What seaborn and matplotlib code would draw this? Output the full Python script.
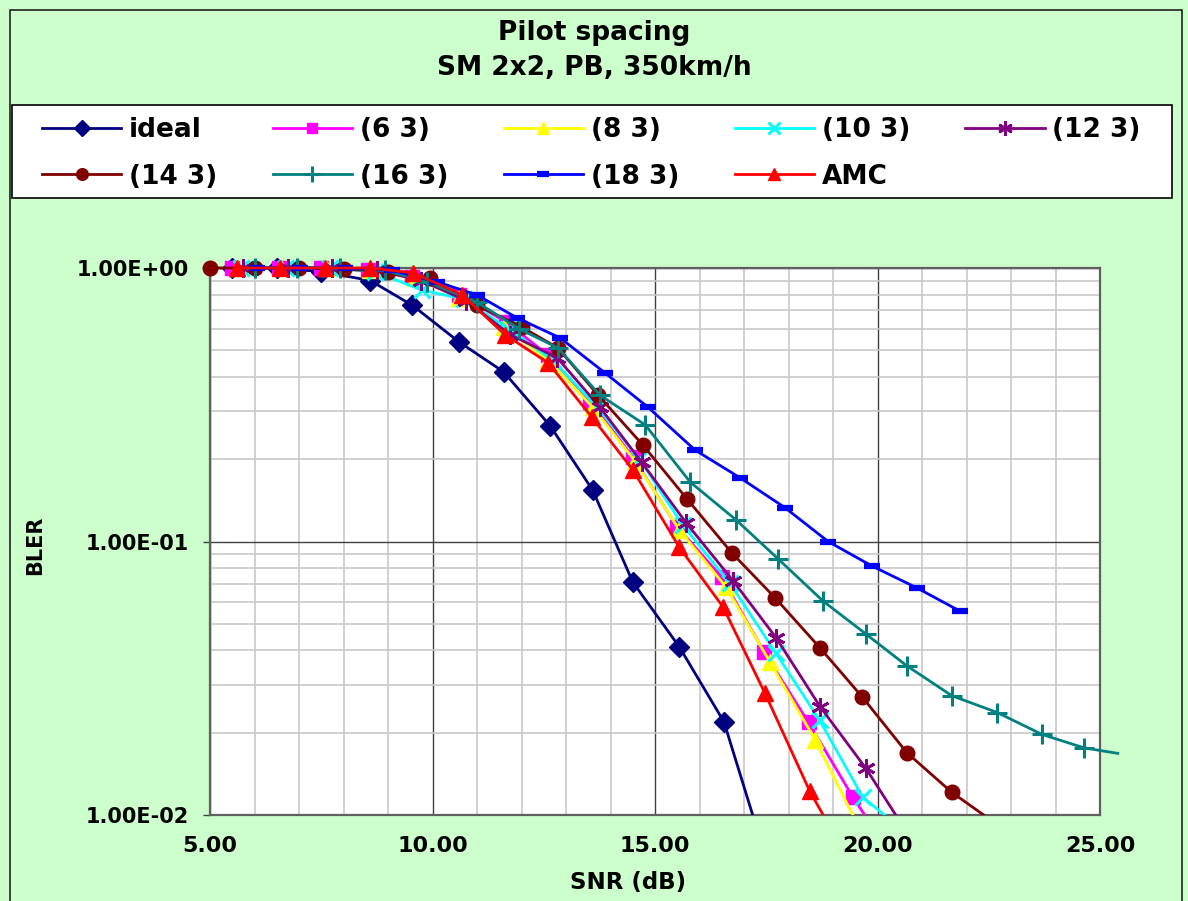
import matplotlib
matplotlib.use("Agg")
import matplotlib.pyplot as plt
import matplotlib.ticker as mticker
from matplotlib.patches import Rectangle
import seaborn as sns
import numpy as np

# ---------------- data ----------------
series_names = ["ideal", "(6 3)", "(8 3)", "(10 3)", "(12 3)",
                "(14 3)", "(16 3)", "(18 3)", "AMC"]

x_ideal = [5.5, 6.5, 7.5, 8.6, 9.55, 10.6, 11.6, 12.65, 13.6, 14.5, 15.55, 16.55, 17.55]
y_ideal = [1.0, 1.0, 0.97, 0.90, 0.73, 0.536, 0.417, 0.264, 0.154, 0.0711, 0.0411, 0.0219, 0.0065]

x_63 = [5.5, 6.55, 7.5, 8.55, 9.55, 10.6, 11.65, 12.6, 13.55, 14.5, 15.5, 16.5, 17.45, 18.45, 19.45, 20.45]
y_63 = [1.0, 1.0, 1.0, 0.98, 0.93, 0.80, 0.635, 0.48, 0.324, 0.204, 0.113, 0.074, 0.0394, 0.0218, 0.0116, 0.0066]

x_83 = [5.6, 6.6, 7.6, 8.6, 9.6, 10.6, 11.6, 12.6, 13.6, 14.55, 15.55, 16.6, 17.58, 18.6, 19.6]
y_83 = [1.0, 1.0, 1.0, 0.98, 0.92, 0.78, 0.61, 0.46, 0.31, 0.197, 0.110, 0.068, 0.0363, 0.0188, 0.0089]

x_103 = [5.7, 6.7, 7.7, 8.7, 9.76, 10.7, 11.7, 12.7, 13.7, 14.65, 15.62, 16.68, 17.72, 18.7, 19.67, 20.7]
y_103 = [1.0, 1.0, 1.0, 0.97, 0.83, 0.77, 0.60, 0.46, 0.31, 0.20, 0.115, 0.0705, 0.039, 0.0222, 0.0116, 0.0085]

x_123 = [5.75, 6.75, 7.75, 8.75, 9.75, 10.75, 11.75, 12.8, 13.76, 14.7, 15.7, 16.75, 17.72, 18.71, 19.74, 20.75]
y_123 = [1.0, 1.0, 1.0, 0.98, 0.90, 0.76, 0.57, 0.47, 0.31, 0.195, 0.117, 0.072, 0.0445, 0.0249, 0.0148, 0.0082]

x_143 = [5.0, 6.0, 7.0, 8.0, 9.0, 9.94, 11.0, 12.0, 12.82, 13.72, 14.73, 15.72, 16.73, 17.7, 18.71, 19.65, 20.66, 21.67, 22.7]
y_143 = [1.0, 1.0, 1.0, 0.99, 0.97, 0.92, 0.73, 0.609, 0.51, 0.343, 0.225, 0.143, 0.0907, 0.0622, 0.0408, 0.0271, 0.0169, 0.0121, 0.0092]

x_163 = [6.0, 6.96, 7.92, 8.93, 9.88, 11.0, 11.94, 12.82, 13.76, 14.78, 15.79, 16.82, 17.76, 18.78, 19.74, 20.66, 21.67, 22.69, 23.7, 24.64, 25.4]
y_163 = [1.0, 1.0, 1.0, 0.98, 0.89, 0.75, 0.60, 0.51, 0.343, 0.267, 0.165, 0.12, 0.0866, 0.0605, 0.0459, 0.0351, 0.0273, 0.0237, 0.0197, 0.0176, 0.0168]

x_183 = [6.06, 7.02, 8.03, 9.09, 10.1, 11.0, 11.9, 12.87, 13.88, 14.84, 15.9, 16.91, 17.92, 18.89, 19.88, 20.89, 21.85]
y_183 = [1.0, 1.0, 1.0, 0.98, 0.89, 0.797, 0.657, 0.555, 0.413, 0.31, 0.216, 0.171, 0.133, 0.1, 0.0813, 0.0676, 0.0557]

x_amc = [5.6, 6.57, 7.58, 8.6, 9.56, 10.66, 11.63, 12.6, 13.58, 14.5, 15.54, 16.53, 17.47, 18.48, 19.5]
y_amc = [1.0, 1.0, 1.0, 1.0, 0.96, 0.80, 0.57, 0.45, 0.285, 0.183, 0.0956, 0.0576, 0.0279, 0.0122, 0.0062]

x_ticks = [5, 10, 15, 20, 25]
y_ticks = [1.0, 0.1, 0.01]
y_tick_labels = ["1.00E+00", "1.00E-01", "1.00E-02"]

# ---------------- styling ----------------
xs = [x_ideal, x_63, x_83, x_103, x_123, x_143, x_163, x_183, x_amc]
ys = [y_ideal, y_63, y_83, y_103, y_123, y_143, y_163, y_183, y_amc]
colors = ["#000080", "#FF00FF", "#FFFF00", "#00FFFF", "#800080",
          "#800000", "#008080", "#0000FF", "#FF0000"]
markers = ["D", "s", "^", "x", (6, 2, 0), "o", "+", "_", "^"]
msizes = [10, 9.5, 11, 11, 13, 10.5, 14, 11, 11]
mews = [1, 1, 1, 2.2, 2.0, 1, 2.2, 4.5, 1]

BG = "#CCFFCC"
W, H = 1188, 901
fig = plt.figure(figsize=(W / 100, H / 100), dpi=100, facecolor=BG)
ax = fig.add_axes([210 / W, 1 - 815 / H, (1100 - 210) / W, (815 - 268) / H])
ax.set_facecolor("white")

for name, x, y, c, m, ms, mew in zip(series_names, xs, ys, colors, markers, msizes, mews):
    kw = {}
    if name == "(16 3)":
        kw["markevery"] = list(range(len(x) - 1))
    sns.lineplot(x=x, y=y, ax=ax, color=c, marker=m, markersize=ms,
                 markeredgecolor=c, markerfacecolor=c, markeredgewidth=mew,
                 linewidth=2, label=name, sort=False, estimator=None,
                 errorbar=None, zorder=3, **kw)

h, l = ax.get_legend_handles_labels()
if ax.get_legend() is not None:
    ax.get_legend().remove()
hd = dict(zip(l, h))
# legend fills column-first; reorder so it reads row by row like the reference
order = ["ideal", "(14 3)", "(6 3)", "(16 3)", "(8 3)", "(18 3)", "(10 3)", "AMC", "(12 3)"]

clip_rect = Rectangle((-0.04, 0.0), 1.09, 1.06, transform=ax.transAxes)
for ln in ax.lines:
    ln.set_clip_path(clip_rect)

ax.set_yscale("log")
ax.set_xlim(5, 25)
ax.set_ylim(0.01, 1.0)

ax.xaxis.set_major_locator(mticker.FixedLocator(x_ticks))
ax.xaxis.set_major_formatter(mticker.FixedFormatter([f"{v:.2f}" for v in x_ticks]))
ax.xaxis.set_minor_locator(mticker.MultipleLocator(1))
ax.yaxis.set_major_locator(mticker.FixedLocator(y_ticks))
ax.yaxis.set_major_formatter(mticker.FixedFormatter(y_tick_labels))
ax.yaxis.set_minor_locator(mticker.LogLocator(base=10, subs=np.arange(2, 10)))
ax.yaxis.set_minor_formatter(mticker.NullFormatter())

ax.grid(True, which="minor", color="#C8C8C8", linewidth=1.2, zorder=0)
ax.grid(True, which="major", color="#404040", linewidth=1.0, zorder=0)
ax.set_axisbelow(True)

for s in ax.spines.values():
    s.set_color("#606060")
    s.set_linewidth(1.6)

ax.tick_params(axis="x", which="both", length=0, pad=15, labelsize=16)
ax.tick_params(axis="y", which="major", length=5, width=1, color="#404040", pad=10, labelsize=15)
ax.tick_params(axis="y", which="minor", length=0)
for t in ax.get_xticklabels() + ax.get_yticklabels():
    t.set_fontfamily("DejaVu Sans")
    t.set_fontweight("bold")
ax.set_xlabel("")
ax.set_ylabel("")

# titles and axis labels
fig.text(594 / W, 1 - 33 / H, "Pilot spacing", ha="center", va="center",
         fontsize=19, fontweight="bold", family="DejaVu Sans")
fig.text(594 / W, 1 - 68 / H, "SM 2x2, PB, 350km/h", ha="center", va="center",
         fontsize=19, fontweight="bold", family="DejaVu Sans")
fig.text(628 / W, 1 - 882 / H, "SNR (dB)", ha="center", va="center",
         fontsize=16.5, fontweight="bold", family="DejaVu Sans")
fig.text(35 / W, 1 - 545 / H, "BLER", ha="center", va="center", rotation=90,
         fontsize=15, fontweight="bold", family=["Liberation Sans Narrow", "DejaVu Sans"])

# legend box
fig.patches.append(Rectangle((12 / W, 1 - 198 / H), (1172 - 12) / W, (198 - 105) / H,
                             transform=fig.transFigure, facecolor="white",
                             edgecolor="black", linewidth=1.2, zorder=1))
leg = fig.legend([hd[k] for k in order], order, ncol=5, loc="upper left",
                 bbox_to_anchor=(42 / W, 1 - 117 / H), borderaxespad=0,
                 frameon=False, borderpad=0, handlelength=3.0, handletextpad=0.3,
                 columnspacing=2.1, labelspacing=0.78,
                 prop=dict(family="DejaVu Sans", weight="bold", size=19))
leg.set_zorder(5)
for lh in leg.legend_handles:
    try:
        lh.set_markersize(lh.get_markersize() * 0.8)
    except Exception:
        pass

# chart-area border
fig.patches.append(Rectangle((10 / W, -0.01), (1182 - 10) / W, 1 - 10 / H + 0.01,
                             transform=fig.transFigure, facecolor="none",
                             edgecolor="#202020", linewidth=1.2, zorder=0))

fig.savefig("out.png", dpi=100, facecolor=BG)
